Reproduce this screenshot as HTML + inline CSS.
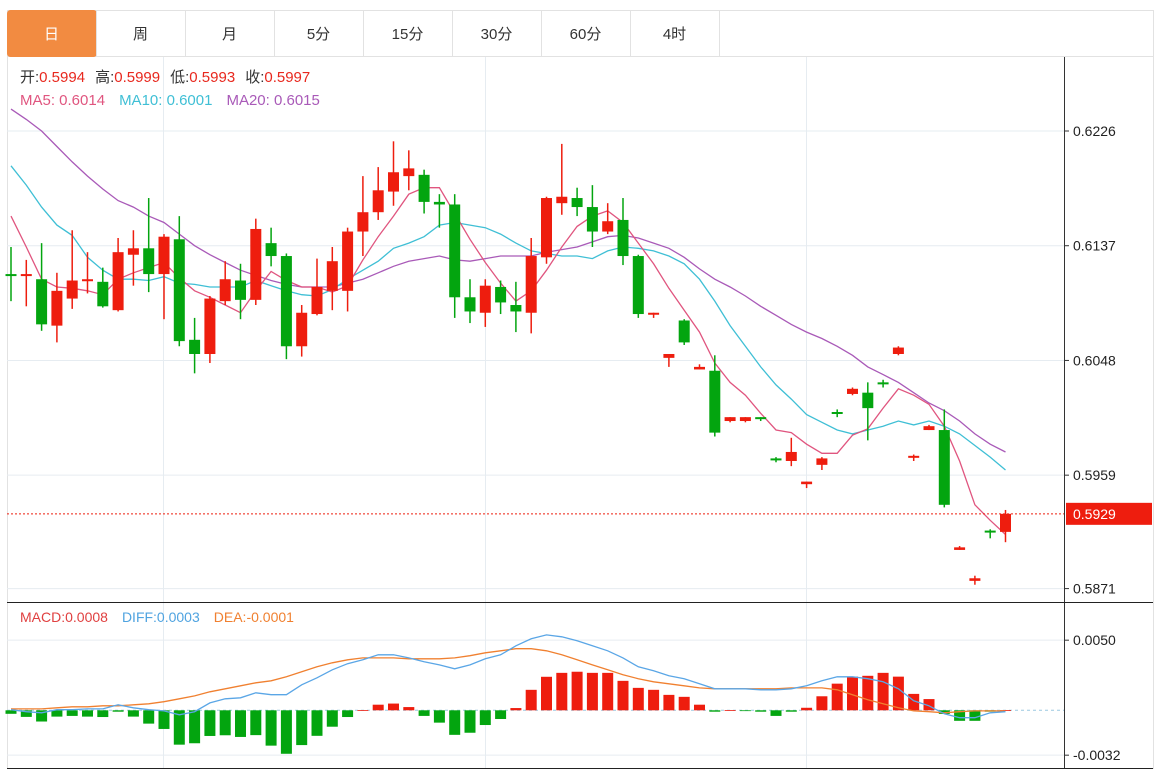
<!DOCTYPE html>
<html><head><meta charset="utf-8">
<style>
body{margin:0;background:#fff;width:1168px;height:772px;overflow:hidden;font-family:"Liberation Sans","Noto Sans CJK SC",sans-serif;}
svg{position:absolute;left:0;top:0}
</style></head>
<body>
<svg id="c" width="1168" height="772" xmlns="http://www.w3.org/2000/svg">
<rect x="7.5" y="10.5" width="1146" height="758" fill="#fff" stroke="#e2e2e2"/>
<line x1="7" y1="56.5" x2="1153" y2="56.5" stroke="#e2e2e2"/>
<g id="tabs"></g>
<g id="grid"></g>
<g id="ma"></g>
<g id="candles"></g>
<g id="macd"></g>
<g id="axis"></g>
<text x="20" y="82" font-size="15"><tspan fill="#333">开:</tspan><tspan fill="#e8281e">0.5994</tspan><tspan fill="#333" dx="10">高:</tspan><tspan fill="#e8281e">0.5999</tspan><tspan fill="#333" dx="10">低:</tspan><tspan fill="#e8281e">0.5993</tspan><tspan fill="#333" dx="10">收:</tspan><tspan fill="#e8281e">0.5997</tspan></text>
<text x="20" y="105" font-size="15"><tspan fill="#e0557f">MA5: 0.6014</tspan><tspan fill="#3fbfd5" dx="14">MA10: 0.6001</tspan><tspan fill="#a95ab8" dx="14">MA20: 0.6015</tspan></text>
<text x="20" y="622" font-size="14"><tspan fill="#e04040">MACD:0.0008</tspan><tspan fill="#4fa3e0" dx="14">DIFF:0.0003</tspan><tspan fill="#f08030" dx="14">DEA:-0.0001</tspan></text>
</svg>
<script>
const candles=[
[0.6115,0.6136,0.6094,0.6114],[0.6114,0.6126,0.6090,0.6115],[0.6111,0.6139,0.6071,0.6076],[0.6075,0.6116,0.6062,0.6102],[0.6096,0.6149,0.6088,0.6110],[0.6110,0.6132,0.6100,0.6111],[0.6109,0.6120,0.6089,0.6090],[0.6087,0.6143,0.6086,0.6132],[0.6130,0.6149,0.6106,0.6135],[0.6135,0.6174,0.6101,0.6115],
[0.6115,0.6146,0.6080,0.6144],[0.6142,0.6160,0.6059,0.6063],[0.6064,0.6081,0.6038,0.6053],[0.6053,0.6098,0.6046,0.6096],[0.6094,0.6125,0.6091,0.6111],[0.6110,0.6123,0.6080,0.6095],[0.6095,0.6158,0.6091,0.6150],[0.6139,0.6151,0.6121,0.6129],[0.6129,0.6131,0.6049,0.6059],[0.6059,0.6091,0.6051,0.6085],
[0.6084,0.6127,0.6083,0.6105],[0.6102,0.6136,0.6087,0.6125],[0.6102,0.6151,0.6086,0.6148],[0.6148,0.6191,0.6129,0.6163],[0.6163,0.6198,0.6157,0.6180],[0.6179,0.6218,0.6168,0.6194],[0.6191,0.6211,0.6180,0.6197],[0.6192,0.6196,0.6162,0.6171],[0.6171,0.6177,0.6151,0.6169],[0.6169,0.6177,0.6081,0.6097],
[0.6097,0.6111,0.6077,0.6086],[0.6085,0.6111,0.6074,0.6106],[0.6105,0.6110,0.6084,0.6093],[0.6091,0.6109,0.6070,0.6086],[0.6085,0.6143,0.6069,0.6129],[0.6128,0.6175,0.6123,0.6174],[0.6170,0.6216,0.6161,0.6175],[0.6174,0.6182,0.6160,0.6167],[0.6167,0.6184,0.6136,0.6148],[0.6148,0.6170,0.6146,0.6156],
[0.6157,0.6174,0.6122,0.6129],[0.6129,0.6130,0.6081,0.6084],[0.6084,0.6085,0.6081,0.6085],[0.6050,0.6053,0.6043,0.6053],[0.6079,0.6080,0.6060,0.6062],[0.6041,0.6045,0.6041,0.6043],[0.6040,0.6052,0.5989,0.5992],[0.6001,0.6004,0.6000,0.6004],[0.6001,0.6004,0.6000,0.6004],[0.6004,0.6004,0.6001,0.6003],
[0.5972,0.5973,0.5969,0.5971],[0.5970,0.5988,0.5966,0.5977],[0.5952,0.5954,0.5949,0.5954],[0.5967,0.5973,0.5963,0.5972],[0.6008,0.6010,0.6004,0.6007],[0.6022,0.6027,0.6021,0.6026],[0.6023,0.6031,0.5986,0.6011],[0.6031,0.6033,0.6027,0.6030],[0.6053,0.6059,0.6052,0.6058],[0.5973,0.5975,0.5970,0.5974],
[0.5994,0.5998,0.5994,0.5997],[0.5994,0.6010,0.5934,0.5936],[0.5901,0.5904,0.5901,0.5903],[0.5877,0.5881,0.5874,0.5879],[0.5916,0.5917,0.5910,0.5915],[0.5915,0.5932,0.5907,0.5929]];
const ma5=[0.6160,0.6136,0.6111,0.6105,0.6104,0.6102,0.6099,0.6111,0.6116,0.6120,0.6124,0.6112,0.6102,0.6097,0.6091,0.6085,0.6102,0.6117,0.6110,0.6105,0.6105,0.6101,0.6106,0.6126,0.6144,0.6160,0.6177,0.6182,0.6182,0.6162,0.6142,0.6124,0.6108,0.6094,0.6102,0.6118,0.6136,0.6152,0.6160,0.6164,0.6155,0.6139,0.6123,0.6104,0.6087,0.6070,0.6046,0.6031,0.6021,0.6007,0.5994,0.5992,0.5983,0.5976,0.5976,0.5990,0.5995,0.6011,0.6026,0.6021,0.6014,0.5997,0.5970,0.5936,0.5924,0.5913];
const ma10=[0.6199,0.6184,0.6167,0.6153,0.6145,0.6128,0.6118,0.6111,0.6111,0.6110,0.6113,0.6108,0.6107,0.6105,0.6105,0.6105,0.6110,0.6106,0.6102,0.6099,0.6098,0.6103,0.6111,0.6118,0.6125,0.6135,0.6139,0.6144,0.6153,0.6155,0.6153,0.6151,0.6146,0.6139,0.6133,0.6131,0.6129,0.6129,0.6127,0.6133,0.6136,0.6135,0.6133,0.6129,0.6123,0.6111,0.6094,0.6075,0.6059,0.6043,0.6029,0.6018,0.6006,0.6000,0.5994,0.5991,0.5994,0.5997,0.6001,0.5998,0.6001,0.5997,0.5991,0.5982,0.5973,0.5963];
const ma20=[0.6243,0.6235,0.6226,0.6214,0.6202,0.6191,0.6181,0.6172,0.6167,0.6160,0.6155,0.6146,0.6137,0.6130,0.6124,0.6118,0.6114,0.6110,0.6107,0.6105,0.6105,0.6105,0.6108,0.6111,0.6116,0.6121,0.6125,0.6127,0.6129,0.6126,0.6125,0.6127,0.6129,0.6129,0.6129,0.6132,0.6134,0.6136,0.6140,0.6144,0.6145,0.6143,0.6139,0.6135,0.6128,0.6119,0.6111,0.6105,0.6098,0.6090,0.6083,0.6076,0.6070,0.6065,0.6059,0.6052,0.6043,0.6037,0.6031,0.6023,0.6015,0.6009,0.6001,0.5991,0.5983,0.5977];
const macdHist=[-0.00025,-0.00047,-0.0008,-0.00045,-0.0004,-0.00045,-0.00048,-0.0001,-0.00045,-0.00095,-0.00133,-0.00245,-0.00235,-0.00183,-0.00178,-0.0019,-0.00177,-0.00252,-0.0031,-0.00248,-0.00182,-0.00117,-0.00048,0.00002,0.0004,0.00048,0.00023,-0.0004,-0.00088,-0.00175,-0.0016,-0.00105,-0.00062,0.00016,0.00146,0.00239,0.00267,0.00275,0.00267,0.00267,0.0021,0.0016,0.00146,0.0011,0.00096,0.0004,-0.0001,0.00002,-0.00001,-0.0001,-0.0004,-0.0001,0.00018,0.001,0.0019,0.0024,0.00246,0.00267,0.0024,0.00117,0.0008,-0.00026,-0.00075,-0.00075,-0.0001,0.00001];
const diff=[0.00004,-0.0001,-0.00018,0.00004,0.00004,0.0001,0.0001,0.00039,0.00018,0.00004,-0.00004,-0.00032,-0.0001,0.00053,0.00082,0.00089,0.00125,0.00111,0.00111,0.00182,0.00232,0.00289,0.00332,0.0036,0.00396,0.00396,0.00374,0.00346,0.00324,0.00296,0.00324,0.00367,0.00396,0.0046,0.0051,0.00538,0.00524,0.00496,0.0046,0.00424,0.00374,0.0031,0.00282,0.00246,0.00225,0.00189,0.00153,0.00153,0.00153,0.00146,0.00146,0.00153,0.00175,0.0021,0.00239,0.00239,0.00225,0.00203,0.00153,0.00068,0.00032,-0.00025,-0.00053,-0.00053,-0.00018,-0.0001];
const dea=[0.0001,0.0001,0.0001,0.00018,0.00025,0.00025,0.00032,0.00032,0.00039,0.00046,0.00061,0.00082,0.00103,0.00132,0.00153,0.00175,0.00196,0.0021,0.00239,0.00275,0.0031,0.00339,0.0036,0.00374,0.00374,0.00374,0.00367,0.00367,0.00367,0.00374,0.00389,0.0041,0.00424,0.00439,0.00439,0.00424,0.00396,0.0036,0.00324,0.00289,0.00253,0.00225,0.00203,0.00189,0.00175,0.0016,0.00153,0.00153,0.00153,0.00153,0.00153,0.0016,0.0016,0.0016,0.00146,0.00111,0.00075,0.00046,0.00018,-0.00004,-0.0001,-0.00018,-0.0001,-0.00004,-0.00004,-0.00004];
const priceTicks=[0.6226,0.6137,0.6048,0.5959,0.5871];
const priceTickLabels=["0.6226","0.6137","0.6048","0.5959","0.5871"];
const macdTicks=[0.005,-0.0032];
const macdTickLabels=["0.0050","-0.0032"];
const lastPrice=0.5929;
const tabLabels=["日","周","月","5分","15分","30分","60分","4时"];

const NS="http://www.w3.org/2000/svg";
function mk(parent,tag,attrs){const e=document.createElementNS(NS,tag);for(const k in attrs)e.setAttribute(k,attrs[k]);parent.appendChild(e);return e;}
const xS=i=>11+i*15.3;
const yP=v=>131+(0.6226-v)*12890;
const yM=v=>710.3-v*14024;
const RED="#ee1d0e",GREEN="#03a50f";

// tabs
const tabs=document.getElementById('tabs');
tabLabels.forEach((t,i)=>{
  const x=7+i*89;
  const r=mk(tabs,'rect',{x:x+0.5,y:10.5,width:89,height:46,fill:i===0?'#f28b41':'#fff',stroke:i===0?'#f28b41':'#e2e2e2',rx:i===0?3:0});
  
  
  const tx=mk(tabs,'text',{x:x+44.5,y:39,'text-anchor':'middle','font-size':15,fill:i===0?'#fff':'#333'});
  tx.textContent=t;
  
  
});

// grid
const grid=document.getElementById('grid');
priceTicks.forEach(v=>{const l=mk(grid,'line',{x1:7,x2:1064,y1:yP(v),y2:yP(v),stroke:'#e6ecf1'});});
macdTicks.forEach(v=>{const l=mk(grid,'line',{x1:7,x2:1064,y1:yM(v),y2:yM(v),stroke:'#e6ecf1'});});
[163.5,485.5,806.5].forEach(x=>{const l=mk(grid,'line',{x1:x,x2:x,y1:57,y2:768,stroke:'#e6ecf1'});});

// MA lines
const maG=document.getElementById('ma');
[[ma20,'#a95ab8','ma20-line'],[ma10,'#3fbfd5','ma10-line'],[ma5,'#e0557f','ma5-line']].forEach(([arr,c,n])=>{
  const d=arr.map((v,i)=>(i?'L':'M')+xS(i).toFixed(1)+' '+yP(v).toFixed(1)).join(' ');
  const p=mk(maG,'path',{d:d,fill:'none',stroke:c,'stroke-width':1.3});
  
  
});

// candles
const cg=document.getElementById('candles');
candles.forEach((c,i)=>{
  const [o,h,l,cl]=c;const up=cl>=o;const col=up?RED:GREEN;const x=xS(i);
  const w=mk(cg,'line',{x1:x,x2:x,y1:yP(h),y2:yP(l),stroke:col,'stroke-width':1.5});
  
  
  const top=yP(Math.max(o,cl)),bot=yP(Math.min(o,cl));
  const b=mk(cg,'rect',{x:x-5.5,y:top,width:11,height:Math.max(2,bot-top),fill:col});
  
  
});
// last price line
const lp=mk(cg,'line',{x1:7,x2:1064,y1:yP(lastPrice),y2:yP(lastPrice),stroke:RED,'stroke-dasharray':'2,2'});



// macd
const mg=document.getElementById('macd');
const zl=mk(mg,'line',{x1:7,x2:1064,y1:yM(0),y2:yM(0),stroke:'#9cc8e0','stroke-dasharray':'3,3'});


macdHist.forEach((v,i)=>{
  const y0=yM(0),y1=yM(v);
  const r=mk(mg,'rect',{x:xS(i)-5.5,y:Math.min(y0,y1),width:11,height:Math.max(0.8,Math.abs(y1-y0)),fill:v>=0?RED:GREEN});
  
  
});
[[dea,'#f08030','dea-line'],[diff,'#5aa6e6','diff-line']].forEach(([arr,c,n])=>{
  const d=arr.map((v,i)=>(i?'L':'M')+xS(i).toFixed(1)+' '+yM(v).toFixed(1)).join(' ');
  const p=mk(mg,'path',{d:d,fill:'none',stroke:c,'stroke-width':1.3});
  
  
});

// axes
const ax=document.getElementById('axis');
let e=mk(ax,'line',{x1:1064.5,x2:1064.5,y1:57,y2:768,stroke:'#333'});

e=mk(ax,'line',{x1:7,x2:1153,y1:602.5,y2:602.5,stroke:'#222'});

e=mk(ax,'line',{x1:7,x2:1153,y1:768.5,y2:768.5,stroke:'#222'});

priceTicks.forEach((v,i)=>{
  const y=yP(v);
  const t=mk(ax,'line',{x1:1064,x2:1069,y1:y,y2:y,stroke:'#333'});
  
  const tx=mk(ax,'text',{x:1073,y:y+5,'font-size':14,fill:'#222'});tx.textContent=priceTickLabels[i];
  
});
macdTicks.forEach((v,i)=>{
  const y=yM(v);
  const t=mk(ax,'line',{x1:1064,x2:1069,y1:y,y2:y,stroke:'#333'});
  
  const tx=mk(ax,'text',{x:1073,y:y+5,'font-size':14,fill:'#222'});tx.textContent=macdTickLabels[i];
  
});
const ly=yP(lastPrice);
e=mk(ax,'rect',{x:1066,y:ly-11,width:86,height:22,fill:RED});

e=mk(ax,'text',{x:1073,y:ly+5,'font-size':14,fill:'#fff'});e.textContent=lastPrice.toFixed(4);

</script>
</body></html>
